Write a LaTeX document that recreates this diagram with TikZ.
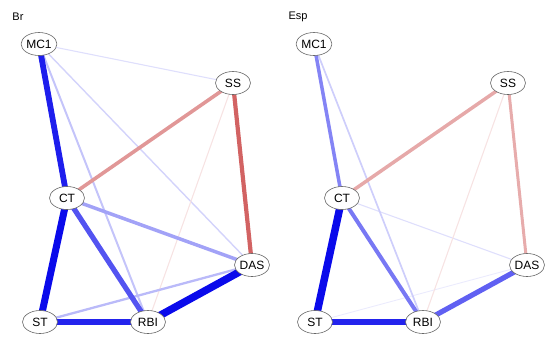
\documentclass[tikz,border=0pt]{standalone}
\usepackage{fontspec}
\setmainfont{Liberation Sans}
\usepackage{tikz}
\usetikzlibrary{shapes.geometric, positioning, backgrounds}
\usepackage{xcolor}
\definecolor{posedge}{RGB}{10,10,235}
\definecolor{negedge}{RGB}{205,82,82}

\begin{document}
\begin{tikzpicture}[
    x=1pt, y=-1pt,
    var/.style={ellipse, draw=black!60, fill=white, line width=0.6pt, minimum width=35pt, minimum height=23pt, inner sep=0pt, font=\fontsize{12}{12}\selectfont},
    panel/.style={anchor=center, font=\fontsize{11}{11}\selectfont},
    pos/.style={draw=posedge!#1},
    neg/.style={draw=negedge!#1}
]
    \useasboundingbox (0,0) rectangle (550,349);

    % left panel
    \node (br) [panel] at (18,17) {Br};
    \node (br-mc1) [var] at (39,44) {MC1};
    \node (br-ss) [var] at (233,83) {SS};
    \node (br-ct) [var] at (67,198) {CT};
    \node (br-das) [var] at (252,265) {DAS};
    \node (br-st) [var] at (40,322) {ST};
    \node (br-rbi) [var] at (148,322) {RBI};

    \begin{scope}[on background layer]
    \draw [pos=13, line width=1.1pt] (br-mc1.center) -- (br-ss.center);
    \draw [pos=18, line width=1.4pt] (br-mc1.center) -- (br-das.center);
    \draw [pos=24, line width=2pt] (br-mc1.center) -- (br-rbi.center);
    \draw [neg=16, line width=1.1pt] (br-ss.center) -- (br-rbi.center);
    \draw [pos=28, line width=2.3pt] (br-st.center) -- (br-das.center);
    \draw [pos=38, line width=3.5pt] (br-ct.center) -- (br-das.center);
    \draw [neg=60, line width=3.6pt] (br-ss.center) -- (br-ct.center);
    \draw [neg=90, line width=4.2pt] (br-ss.center) -- (br-das.center);
    \draw [pos=70, line width=5.2pt] (br-ct.center) -- (br-rbi.center);
    \draw [pos=92, line width=5.8pt] (br-mc1.center) -- (br-ct.center);
    \draw [pos=100, line width=7pt] (br-ct.center) -- (br-st.center);
    \draw [pos=90, line width=6.3pt] (br-st.center) -- (br-rbi.center);
    \draw [pos=100, line width=7.5pt] (br-rbi.center) -- (br-das.center);
    \end{scope}

    % right panel
    \node (esp) [panel] at (298,17) {Esp};
    \node (esp-mc1) [var] at (314,44) {MC1};
    \node (esp-ss) [var] at (508,83) {SS};
    \node (esp-ct) [var] at (342,198) {CT};
    \node (esp-das) [var] at (527,265) {DAS};
    \node (esp-st) [var] at (315,322) {ST};
    \node (esp-rbi) [var] at (423,322) {RBI};

    \begin{scope}[on background layer]
    \draw [pos=8, line width=0.9pt] (esp-st.center) -- (esp-das.center);
    \draw [pos=13, line width=1.1pt] (esp-ct.center) -- (esp-das.center);
    \draw [pos=20, line width=1.7pt] (esp-mc1.center) -- (esp-rbi.center);
    \draw [neg=16, line width=1.1pt] (esp-ss.center) -- (esp-rbi.center);
    \draw [neg=50, line width=3.5pt] (esp-ss.center) -- (esp-ct.center);
    \draw [neg=48, line width=3pt] (esp-ss.center) -- (esp-das.center);
    \draw [pos=50, line width=3.5pt] (esp-mc1.center) -- (esp-ct.center);
    \draw [pos=55, line width=4pt] (esp-ct.center) -- (esp-rbi.center);
    \draw [pos=65, line width=5.2pt] (esp-rbi.center) -- (esp-das.center);
    \draw [pos=100, line width=7.5pt] (esp-ct.center) -- (esp-st.center);
    \draw [pos=90, line width=6.3pt] (esp-st.center) -- (esp-rbi.center);
    \end{scope}
\end{tikzpicture}
\end{document}
